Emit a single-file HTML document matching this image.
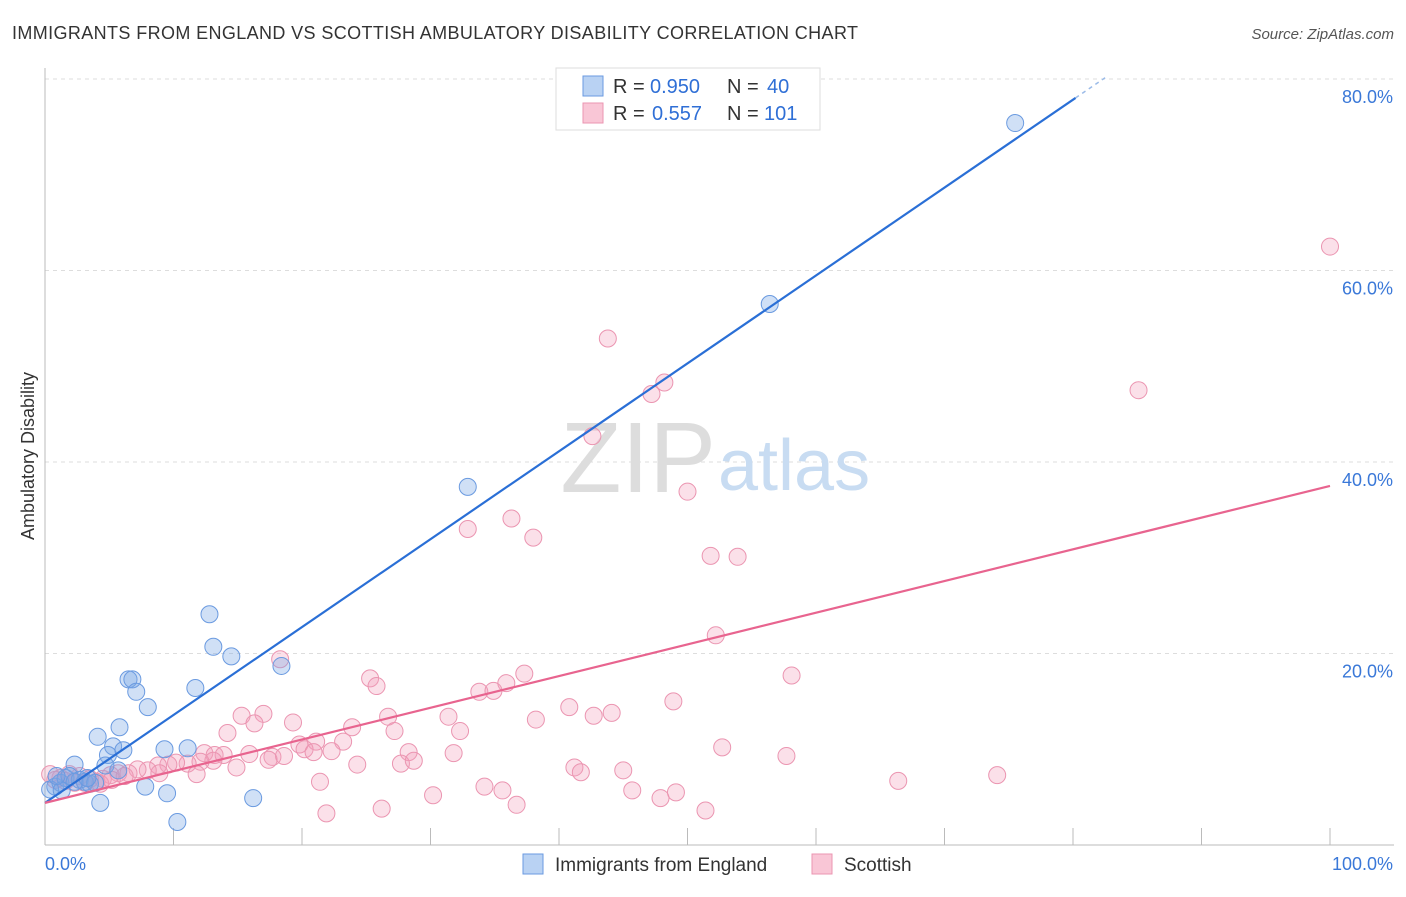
<!DOCTYPE html>
<html><head><meta charset="utf-8"><style>
body{margin:0;background:#fff;font-family:"Liberation Sans",sans-serif;}
svg text{font-family:"Liberation Sans",sans-serif;}
</style></head><body>
<svg id="chart" width="1406" height="892">
<text x="12" y="39" font-size="18" fill="#333" textLength="846">IMMIGRANTS FROM ENGLAND VS SCOTTISH AMBULATORY DISABILITY CORRELATION CHART</text>
<text x="1394" y="39" font-size="15" fill="#555" font-style="italic" text-anchor="end">Source: ZipAtlas.com</text>
<text transform="translate(34,456) rotate(-90)" font-size="18" fill="#333" text-anchor="middle">Ambulatory Disability</text>
<g id="grid"></g>
<g id="axes"></g>
<text x="716" y="492" font-size="100" fill="#ddd" text-anchor="end" font-family="Liberation Serif">ZIP</text>
<text x="718" y="490" font-size="72" fill="#c8dcf2">atlas</text>
<g id="pts"></g>
<g id="lines"></g>
<g>
<rect x="556" y="68" width="264" height="62" fill="#fff" stroke="#ddd"/>
<rect x="583" y="76" width="20" height="20" fill="#b9d2f3" stroke="#6a9ae0"/>
<rect x="583" y="103" width="20" height="20" fill="#f9c6d6" stroke="#eb95b1"/>
<text x="613" y="93" font-size="20" fill="#333">R =</text>
<text x="650" y="93" font-size="20" fill="#2f6fd6">0.950</text>
<text x="727" y="93" font-size="20" fill="#333">N =</text>
<text x="767" y="93" font-size="20" fill="#2f6fd6">40</text>
<text x="613" y="120" font-size="20" fill="#333">R =</text>
<text x="652" y="120" font-size="20" fill="#2f6fd6">0.557</text>
<text x="727" y="120" font-size="20" fill="#333">N =</text>
<text x="764" y="120" font-size="20" fill="#2f6fd6">101</text>
</g>
<g>
<rect x="523" y="854" width="20" height="20" fill="#b9d2f3" stroke="#6a9ae0"/>
<text x="555" y="871" font-size="19" fill="#333">Immigrants from England</text>
<rect x="812" y="854" width="20" height="20" fill="#f9c6d6" stroke="#eb95b1"/>
<text x="844" y="871" font-size="19" fill="#333">Scottish</text>
</g>
</svg>
<script>
const yTicks=[20,40,60,80];
const yTickLabels=["20.0%","40.0%","60.0%","80.0%"];
const xTicks=[0,10,20,30,40,50,60,70,80,90,100];
const blueX=[75.5,56.4,32.9,12.8,13.1,14.5,18.4,6.5,6.8,7.1,8.0,11.7,5.8,4.1,5.3,6.1,4.9,9.3,11.1,2.3,4.7,5.7,7.8,9.5,4.3,10.3,16.2,0.8,1.2,1.6,1.9,2.7,3.1,3.5,0.4,2.3,3.9,1.3,3.3,0.9];
const blueY=[75.4,56.5,37.4,24.1,20.7,19.7,18.7,17.3,17.3,16.0,14.4,16.4,12.3,11.3,10.3,9.9,9.4,10.0,10.1,8.4,8.3,7.8,6.1,5.4,4.4,2.4,4.9,6.1,6.5,7.0,7.2,6.8,6.6,6.4,5.8,6.6,6.5,5.7,7.0,7.2];
const pinkX=[100,43.8,48.2,47.2,85.1,42.6,50.0,36.3,32.9,38.0,51.8,53.9,52.2,18.3,58.1,37.3,25.3,25.8,35.9,33.8,34.9,48.9,40.8,44.1,42.7,17.0,15.3,19.3,16.3,38.2,31.4,26.7,23.9,32.3,14.2,27.2,23.2,19.8,21.1,52.7,57.7,22.3,20.2,20.9,28.3,31.8,12.4,13.2,13.9,17.7,15.9,17.4,13.1,12.1,11.1,10.2,9.6,8.8,8.0,7.2,8.9,11.8,6.5,5.7,5.1,4.5,4.0,14.9,24.3,27.7,28.7,18.6,41.2,41.7,45.0,66.4,74.1,21.4,34.2,35.6,45.7,49.1,47.9,30.2,36.7,26.2,21.9,51.4,2.7,1.9,1.2,0.4,0.8,1.6,2.3,3.1,3.5,4.3,5.2,6.2];
const pinkY=[62.5,52.9,48.3,47.1,47.5,42.7,36.9,34.1,33.0,32.1,30.2,30.1,21.9,19.4,17.7,17.9,17.4,16.6,16.9,16.0,16.1,15.0,14.4,13.8,13.5,13.7,13.5,12.8,12.7,13.1,13.4,13.4,12.3,11.9,11.7,11.9,10.8,10.5,10.8,10.2,9.3,9.8,10.0,9.7,9.7,9.6,9.6,9.4,9.4,9.2,9.5,8.9,8.8,8.7,8.5,8.6,8.4,8.3,7.8,7.9,7.5,7.4,7.5,7.5,7.3,6.9,6.6,8.1,8.4,8.5,8.8,9.3,8.1,7.6,7.8,6.7,7.3,6.6,6.1,5.7,5.7,5.5,4.9,5.2,4.2,3.8,3.3,3.6,7.2,7.4,7.0,7.4,6.8,6.7,6.5,6.5,6.9,6.4,6.8,7.2];
const blueFit=[4.4,0.918];
const pinkFit=[4.4,0.331];
const NS="http://www.w3.org/2000/svg";
const X0=45,X1=1330,Y0=845,PER=9.575;
const sx=v=>X0+(X1-X0)*v/100, sy=v=>Y0-v*PER;
function mk(t,a,p){const e=document.createElementNS(NS,t);for(const k in a)e.setAttribute(k,a[k]);p.appendChild(e);return e;}
const grid=document.getElementById('grid'),axes=document.getElementById('axes');
yTicks.forEach((t,i)=>{
 const l=mk('line',{x1:X0,x2:1394,y1:sy(t),y2:sy(t),stroke:'#ddd','stroke-dasharray':'4,4'},grid);
 
 
 const tx=mk('text',{x:1393,y:sy(t)+24,'font-size':18,fill:'#3a78d8','text-anchor':'end'},axes);
 tx.textContent=yTickLabels[i];
 
 
});
mk('line',{x1:X0,x2:X0,y1:68,y2:Y0,stroke:'#bbb'},axes);
mk('line',{x1:X0,x2:1394,y1:Y0,y2:Y0,stroke:'#bbb'},axes);
xTicks.forEach(t=>{
 const l=mk('line',{x1:sx(t),x2:sx(t),y1:828,y2:Y0,stroke:'#bbb'},axes);
 
 
});
const xl0=mk('text',{x:45,y:870,'font-size':18,fill:'#3a78d8'},axes);xl0.textContent='0.0%';


const xl1=mk('text',{x:1393,y:870,'font-size':18,fill:'#3a78d8','text-anchor':'end'},axes);xl1.textContent='100.0%';


const pts=document.getElementById('pts');
pinkX.forEach((x,i)=>{
 const c=mk('circle',{cx:sx(x),cy:sy(pinkY[i]),r:8.5,fill:'rgba(244,160,188,0.32)',stroke:'#eb95b1','stroke-width':1},pts);
 
 
});
blueX.forEach((x,i)=>{
 const c=mk('circle',{cx:sx(x),cy:sy(blueY[i]),r:8.5,fill:'rgba(120,165,230,0.35)',stroke:'#6a9ae0','stroke-width':1},pts);
 
 
});
const lines=document.getElementById('lines');
const bl=mk('line',{x1:sx(0),y1:sy(blueFit[0]),x2:sx(80.2),y2:sy(blueFit[0]+blueFit[1]*80.2),stroke:'#2a6fd6','stroke-width':2.2},lines);


mk('line',{x1:sx(80.2),y1:sy(blueFit[0]+blueFit[1]*80.2),x2:sx(82.5),y2:sy(blueFit[0]+blueFit[1]*82.5),stroke:'#9bbbe8','stroke-width':1.5,'stroke-dasharray':'4,4'},lines);
const pl=mk('line',{x1:sx(0),y1:sy(pinkFit[0]),x2:sx(100),y2:sy(pinkFit[0]+pinkFit[1]*100),stroke:'#e8648f','stroke-width':2.2},lines);


</script>
</body></html>
